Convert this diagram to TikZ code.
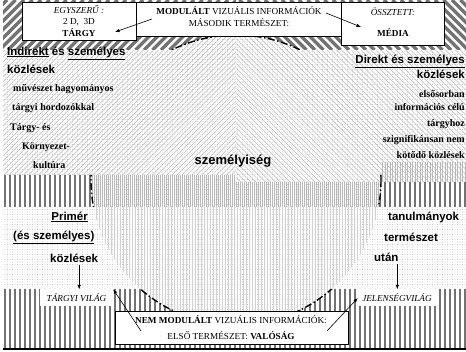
\documentclass[tikz,border=0pt]{standalone}
\usepackage{fontspec}
\setmainfont{Liberation Serif}
\setsansfont{Liberation Sans}
\usetikzlibrary{patterns.meta,arrows.meta}

\begin{document}
\begin{tikzpicture}[x=1pt,y=-1pt,
  box/.style={draw,line width=1.1pt,fill=white,inner sep=0pt,anchor=north west},
  boxtext/.style={font=\fontsize{9.2}{11}\selectfont,inner sep=0pt},
  head/.style={font=\sffamily\bfseries\fontsize{11.5}{13}\selectfont,inner sep=0pt},
  note/.style={font=\bfseries\fontsize{10}{12}\selectfont,inner sep=0pt},
  world/.style={fill=white,inner sep=0pt,minimum height=17pt,font=\itshape\fontsize{9.2}{11}\selectfont},
  fine/.style={pattern={Lines[angle=#1,distance=3.5pt,line width=.5pt]},pattern color=gray!55},
  slant/.style={line width=3.4pt,black!55},
  bar/.style={line width=2.8pt,black!55},
  arr/.style={-{Latex[length=4.5pt,width=3.5pt]},line width=.6pt}]
\useasboundingbox (0,0) rectangle (466,352);

% background texture
\fill[pattern={Dots[distance=2.5pt,radius=.45pt]},pattern color=gray!70] (3,0) rectangle (466,349);
\fill[fine=45] (3,0) rectangle (236,175);
\fill[fine=-45] (236,0) rectangle (466,182);
\fill[pattern={Lines[angle=90,distance=2.5pt,line width=.5pt]},pattern color=gray!55] (381,163) rectangle (466,182);

% inside the circle
\begin{scope}
  \clip (236,180) circle (145);
  \fill[pattern={Lines[angle=90,distance=2pt,line width=.6pt]},pattern color=gray!55]
    (0,175) rectangle (236,207) (236,182) rectangle (466,207);
  \fill[pattern={Lines[angle=90,distance=3pt,line width=.5pt]},pattern color=gray!35]
    (0,207) rectangle (466,352);
\end{scope}

% heavy stripes outside the circle
\begin{scope}[even odd rule]
  \clip (-10,-10) rectangle (476,362) (236,180) circle (145);
  \fill[white] (3,0) rectangle (466,50) (3,175) rectangle (236,207)
    (236,182) rectangle (466,207) (3,289) rectangle (466,349);
  \begin{scope}
    \clip (3,0) rectangle (236,50);
    \foreach \i in {-60,-51.5,...,240} \draw[slant] (\i,50) -- ++(50,-50);
  \end{scope}
  \begin{scope}
    \clip (236,0) rectangle (466,50);
    \foreach \i in {180,188.5,...,470} \draw[slant] (\i,0) -- ++(50,50);
  \end{scope}
  \begin{scope}
    \clip (3,175) rectangle (236,207) (236,182) rectangle (466,207) (3,289) rectangle (466,349);
    \foreach \x in {5,10,...,465} \draw[bar] (\x,170) -- (\x,210) (\x,285) -- (\x,350);
  \end{scope}
\end{scope}

% circle edge where it cuts the stripes
\begin{scope}
  \clip (3,0) rectangle (466,50) (3,175) rectangle (466,207) (3,289) rectangle (466,349);
  \draw[line width=1.4pt,dash pattern=on 7pt off 2.5pt on 1.5pt off 2.5pt] (236,180) circle (145);
\end{scope}
\draw[line width=1.2pt] (3,349) -- (466,349);

% top boxes
\node[box,minimum width=114pt,minimum height=38pt] (simple) at (22,2) {};
\node[box,minimum width=205pt,minimum height=34pt] (modul) at (136,2) {};
\node[box,minimum width=103pt,minimum height=43pt] (compound) at (341,2) {};
\node[boxtext] (egy) at (79,10) {\itshape EGYSZERŰ :};
\node[boxtext] (dim) at (79,22) {2 D,\ \ 3D};
\node[boxtext] (targy) at (79,33) {\bfseries TÁRGY};
\node[boxtext] (mod1) at (239,11) {\textbf{MODULÁLT} VIZUÁLIS INFORMÁCIÓK};
\node[boxtext] (mod2) at (239,23) {MÁSODIK TERMÉSZET:};
\node[boxtext] (ossz) at (393,12) {\itshape ÖSSZTETT:};
\node[boxtext] (media) at (393,33) {\bfseries MÉDIA};
\coordinate (tl) at (152,19);
\coordinate (tr) at (326,13);
\draw[arr] (tl) -- (115,32);
\draw[arr] (tr) -- (361,27);

% left side
\node[head,anchor=west] (indir) at (7,53) {\underline{Indirekt} és \underline{személyes}};
\node[head,anchor=west] (kozl1) at (7,69) {közlések};
\node[note,anchor=west] (muv) at (13,89) {művészet hagyományos};
\node[note,anchor=west] (hord) at (12,108) {tárgyi hordozókkal};
\node[note,anchor=west] (targyes) at (10,128) {Tárgy- és};
\node[note,anchor=west] (korny) at (22,147) {Környezet-};
\node[note,anchor=west] (kult) at (33,165) {kultúra};

% right side
\node[head,anchor=east] (dir) at (465,61) {\underline{Direkt és személyes}};
\node[head,anchor=east] (kozl2) at (465,74) {közlések};
\node[note,anchor=east] (elso) at (465,94) {elsősorban};
\node[note,anchor=east] (info) at (465,107) {információs célú};
\node[note,anchor=east] (hoz) at (465,124) {tárgyhoz};
\node[note,anchor=east] (szig) at (465,140) {szignifikánsan nem};
\node[note,anchor=east] (kot) at (465,155) {kötődő közlések};

\node[font=\sffamily\bfseries\fontsize{13}{15}\selectfont,inner sep=0pt] (szem) at (233,161) {személyiség};

% lower part
\node[head,anchor=east] (prim) at (88,217) {\underline{Primér}};
\node[head,anchor=west] (esz) at (13,237) {\underline{(és személyes)}};
\node[head,anchor=west] (kozl3) at (50,258) {közlések};
\node[head,anchor=west] (tanul) at (388,217) {tanulmányok};
\node[head,anchor=west] (term) at (384,237) {természet};
\node[head,anchor=west] (utan) at (374,257) {után};

\node[world,minimum width=73pt] (tvilag) at (76.5,298) {TÁRGYI VILÁG};
\node[world,minimum width=78pt] (jvilag) at (397,298) {JELENSÉGVILÁG};
\draw[arr] ([xshift=5pt,yshift=-3pt]kozl3.south) -- ([xshift=5pt]kozl3.south |- tvilag.north);
\draw[arr] ([xshift=11pt,yshift=-3pt]utan.south) -- ([xshift=11pt]utan.south |- jvilag.north);

\node[box,minimum width=233pt,minimum height=33pt] (nemmod) at (115,311) {};
\node[boxtext] (nem1) at (231,320) {\textbf{NEM MODULÁLT} VIZUÁLIS INFORMÁCIÓK:};
\node[boxtext] (nem2) at (231,336) {ELSŐ TERMÉSZET: \textbf{VALÓSÁG}};
\coordinate (bl) at (141,331);
\coordinate (br) at (327,331);
\draw[arr] (bl) -- (tvilag.north east);
\draw[arr] (br) -- (jvilag.west);
\end{tikzpicture}
\end{document}
